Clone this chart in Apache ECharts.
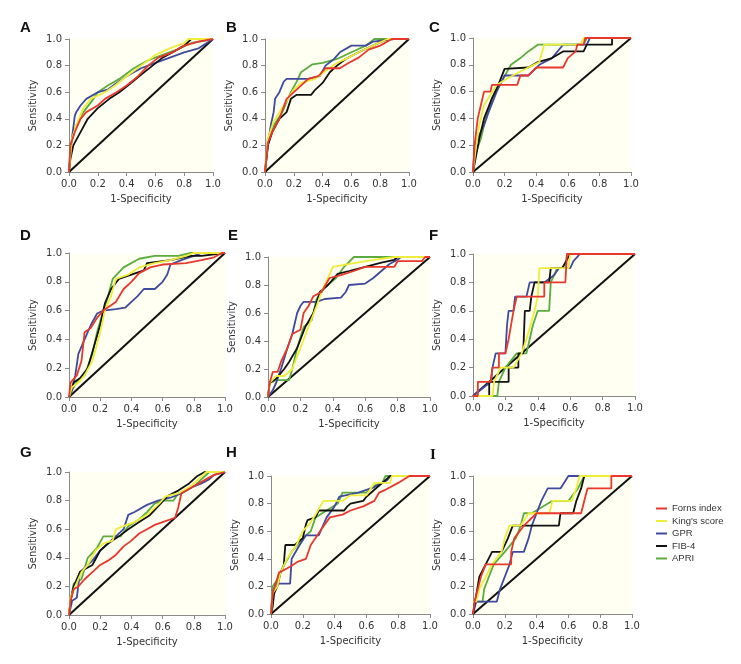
<!DOCTYPE html>
<html><head><meta charset="utf-8">
<script src="https://cdn.jsdelivr.net/npm/echarts@6/dist/echarts.min.js"></script>
<style>html,body{margin:0;padding:0;background:#fff}#c{width:741px;height:664px}</style>
</head><body><div id="c"></div>
<script>
const seriesNames = ["Forns index", "King's score", "GPR", "FIB-4", "APRI"];
const seriesColors = ['#e8382e', '#eded3a', '#3f4a9c', '#111111', '#5bab3f'];
const panelLabels = ['A','B','C','D','E','F','G','H','I'];
const tickValues = [0, 0.2, 0.4, 0.6, 0.8, 1.0];
const diagonal = [[0,0],[1,1]];

// Panel A
const A_forns = [[0,0],[0.01,0.2],[0.04,0.3],[0.08,0.4],[0.12,0.45],[0.2,0.5],[0.25,0.55],[0.33,0.6],[0.4,0.65],[0.48,0.72],[0.55,0.8],[0.62,0.86],[0.72,0.9],[0.8,0.95],[0.9,0.98],[1,1]];
const A_kings = [[0,0],[0.02,0.25],[0.05,0.35],[0.1,0.48],[0.15,0.55],[0.25,0.6],[0.32,0.65],[0.4,0.72],[0.5,0.8],[0.6,0.88],[0.7,0.93],[0.8,0.97],[0.83,1],[1,1]];
const A_gpr = [[0,0],[0.02,0.25],[0.04,0.42],[0.05,0.45],[0.08,0.5],[0.12,0.55],[0.2,0.6],[0.27,0.62],[0.32,0.66],[0.4,0.72],[0.5,0.78],[0.6,0.82],[0.7,0.86],[0.8,0.9],[0.9,0.93],[1,1]];
const A_fib4 = [[0,0],[0.01,0.1],[0.03,0.2],[0.08,0.3],[0.13,0.4],[0.2,0.48],[0.28,0.55],[0.35,0.6],[0.42,0.66],[0.5,0.73],[0.58,0.8],[0.65,0.86],[0.72,0.9],[0.8,0.95],[0.85,1],[1,1]];
const A_apri = [[0,0],[0.01,0.2],[0.05,0.35],[0.1,0.45],[0.17,0.55],[0.2,0.6],[0.27,0.65],[0.35,0.7],[0.45,0.78],[0.55,0.84],[0.65,0.88],[0.75,0.92],[0.85,0.97],[1,1]];
// Panel B
const B_forns = [[0,0],[0.02,0.22],[0.05,0.3],[0.1,0.4],[0.15,0.55],[0.2,0.6],[0.25,0.65],[0.3,0.7],[0.37,0.72],[0.42,0.78],[0.52,0.78],[0.58,0.82],[0.65,0.86],[0.72,0.92],[0.8,0.95],[0.88,1],[1,1]];
const B_kings = [[0,0],[0.02,0.25],[0.06,0.38],[0.13,0.5],[0.2,0.62],[0.25,0.67],[0.35,0.7],[0.42,0.76],[0.5,0.82],[0.58,0.86],[0.65,0.9],[0.75,0.95],[0.85,1],[1,1]];
const B_gpr = [[0,0],[0.02,0.2],[0.04,0.35],[0.06,0.45],[0.07,0.55],[0.1,0.6],[0.13,0.68],[0.15,0.7],[0.3,0.7],[0.38,0.72],[0.42,0.8],[0.48,0.85],[0.52,0.9],[0.6,0.95],[0.7,0.95],[0.75,0.98],[0.9,1],[1,1]];
const B_fib4 = [[0,0],[0.02,0.2],[0.05,0.3],[0.1,0.4],[0.15,0.45],[0.18,0.55],[0.22,0.58],[0.32,0.58],[0.35,0.62],[0.4,0.67],[0.45,0.75],[0.5,0.8],[0.56,0.85],[0.65,0.9],[0.75,0.95],[0.85,1],[1,1]];
const B_apri = [[0,0],[0.02,0.25],[0.06,0.35],[0.12,0.45],[0.18,0.6],[0.22,0.68],[0.25,0.75],[0.33,0.81],[0.4,0.82],[0.5,0.85],[0.6,0.9],[0.7,0.95],[0.76,1],[1,1]];
// Panel C
const C_forns = [[0,0],[0.01,0.2],[0.03,0.4],[0.05,0.5],[0.07,0.6],[0.11,0.6],[0.12,0.65],[0.28,0.65],[0.3,0.72],[0.35,0.72],[0.4,0.78],[0.57,0.78],[0.6,0.85],[0.65,0.9],[0.66,0.95],[0.7,0.95],[0.71,1],[1,1]];
const C_kings = [[0,0],[0.02,0.2],[0.04,0.35],[0.07,0.5],[0.15,0.65],[0.22,0.7],[0.35,0.78],[0.42,0.82],[0.45,0.95],[0.68,0.95],[0.7,1],[1,1]];
const C_gpr = [[0,0],[0.01,0.2],[0.07,0.35],[0.1,0.45],[0.15,0.6],[0.2,0.72],[0.35,0.72],[0.42,0.8],[0.5,0.85],[0.57,0.95],[0.72,0.95],[0.74,1],[1,1]];
const C_fib4 = [[0,0],[0.04,0.25],[0.07,0.4],[0.12,0.55],[0.16,0.65],[0.2,0.77],[0.35,0.78],[0.41,0.82],[0.5,0.85],[0.57,0.9],[0.7,0.9],[0.72,0.95],[0.88,0.95],[0.88,1],[1,1]];
const C_apri = [[0,0],[0.02,0.15],[0.05,0.25],[0.08,0.4],[0.12,0.55],[0.17,0.65],[0.24,0.8],[0.3,0.85],[0.35,0.9],[0.41,0.95],[0.7,0.95],[0.72,1],[1,1]];
// Panel D
const D_forns = [[0,0],[0.01,0.1],[0.05,0.15],[0.08,0.25],[0.1,0.45],[0.14,0.48],[0.18,0.55],[0.22,0.6],[0.3,0.66],[0.35,0.75],[0.4,0.8],[0.45,0.86],[0.52,0.9],[0.6,0.92],[0.75,0.93],[0.85,0.95],[0.93,0.97],[0.98,1],[1,1]];
const D_kings = [[0,0],[0.02,0.07],[0.06,0.1],[0.1,0.15],[0.15,0.25],[0.2,0.45],[0.23,0.6],[0.27,0.7],[0.3,0.82],[0.38,0.85],[0.45,0.9],[0.55,0.93],[0.65,0.95],[0.75,0.98],[0.8,1],[1,1]];
const D_gpr = [[0,0],[0.02,0.05],[0.04,0.15],[0.06,0.3],[0.1,0.4],[0.14,0.5],[0.18,0.58],[0.22,0.6],[0.3,0.61],[0.36,0.62],[0.4,0.66],[0.44,0.7],[0.48,0.75],[0.55,0.75],[0.6,0.8],[0.63,0.85],[0.65,0.92],[0.72,0.95],[0.8,0.98],[0.85,1],[1,1]];
const D_fib4 = [[0,0],[0.03,0.1],[0.07,0.13],[0.12,0.2],[0.16,0.35],[0.2,0.5],[0.23,0.65],[0.27,0.75],[0.32,0.82],[0.4,0.85],[0.48,0.88],[0.5,0.93],[0.65,0.95],[0.78,0.98],[0.85,0.98],[1,1]];
const D_apri = [[0,0],[0.02,0.05],[0.06,0.12],[0.1,0.15],[0.15,0.3],[0.18,0.45],[0.22,0.6],[0.25,0.7],[0.28,0.82],[0.35,0.9],[0.45,0.96],[0.55,0.98],[0.7,0.98],[0.78,1],[1,1]];
// Panel E
const E_forns = [[0,0],[0.01,0.1],[0.03,0.18],[0.06,0.18],[0.08,0.25],[0.12,0.35],[0.15,0.45],[0.2,0.48],[0.22,0.6],[0.25,0.65],[0.28,0.72],[0.33,0.75],[0.38,0.85],[0.45,0.87],[0.53,0.9],[0.6,0.93],[0.78,0.93],[0.8,0.97],[0.95,0.97],[0.97,1],[1,1]];
const E_kings = [[0,0],[0.01,0.1],[0.05,0.15],[0.1,0.15],[0.15,0.2],[0.2,0.35],[0.25,0.5],[0.3,0.65],[0.33,0.75],[0.37,0.85],[0.4,0.93],[0.55,0.96],[0.65,0.98],[0.78,1],[1,1]];
const E_gpr = [[0,0],[0.03,0.05],[0.05,0.1],[0.08,0.2],[0.12,0.35],[0.15,0.45],[0.18,0.6],[0.2,0.65],[0.22,0.68],[0.3,0.68],[0.35,0.7],[0.45,0.71],[0.48,0.75],[0.5,0.8],[0.6,0.81],[0.65,0.85],[0.7,0.9],[0.75,0.95],[0.8,0.98],[0.82,1],[1,1]];
const E_fib4 = [[0,0],[0.01,0.1],[0.05,0.13],[0.1,0.2],[0.13,0.25],[0.18,0.35],[0.23,0.5],[0.28,0.6],[0.32,0.75],[0.37,0.8],[0.43,0.88],[0.5,0.9],[0.6,0.93],[0.7,0.96],[0.78,0.98],[0.8,1],[1,1]];
const E_apri = [[0,0],[0.01,0.1],[0.05,0.12],[0.13,0.12],[0.15,0.2],[0.18,0.35],[0.22,0.5],[0.27,0.55],[0.3,0.7],[0.35,0.78],[0.42,0.85],[0.47,0.93],[0.53,1],[1,1]];
// Panel F
const F_forns = [[0,0],[0.03,0],[0.03,0.1],[0.11,0.1],[0.12,0.2],[0.16,0.2],[0.16,0.3],[0.2,0.3],[0.22,0.4],[0.25,0.6],[0.27,0.7],[0.44,0.7],[0.44,0.8],[0.57,0.8],[0.58,1],[1,1]];
const F_kings = [[0,0],[0.12,0],[0.13,0.1],[0.17,0.2],[0.25,0.2],[0.3,0.3],[0.33,0.4],[0.38,0.6],[0.4,0.7],[0.41,0.9],[0.59,0.9],[0.6,1],[1,1]];
const F_gpr = [[0,0],[0.11,0.1],[0.12,0.2],[0.14,0.3],[0.2,0.3],[0.21,0.5],[0.22,0.6],[0.25,0.6],[0.26,0.7],[0.33,0.7],[0.35,0.8],[0.44,0.8],[0.5,0.85],[0.53,0.9],[0.6,0.9],[0.62,0.95],[0.66,1],[1,1]];
const F_fib4 = [[0,0],[0.1,0],[0.1,0.1],[0.22,0.1],[0.22,0.2],[0.28,0.2],[0.28,0.3],[0.31,0.3],[0.32,0.6],[0.35,0.6],[0.36,0.7],[0.37,0.7],[0.38,0.8],[0.47,0.8],[0.48,0.9],[0.55,0.9],[0.6,1],[1,1]];
const F_apri = [[0,0],[0.15,0],[0.16,0.1],[0.2,0.2],[0.27,0.3],[0.33,0.3],[0.35,0.4],[0.37,0.5],[0.4,0.6],[0.47,0.6],[0.48,0.8],[0.52,0.9],[0.57,0.9],[0.58,1],[1,1]];
// Panel G
const G_forns = [[0,0],[0.01,0.1],[0.03,0.18],[0.06,0.2],[0.1,0.25],[0.15,0.3],[0.2,0.35],[0.25,0.38],[0.3,0.42],[0.35,0.48],[0.4,0.52],[0.45,0.57],[0.5,0.6],[0.55,0.63],[0.6,0.65],[0.68,0.68],[0.7,0.75],[0.72,0.85],[0.8,0.9],[0.88,0.95],[0.93,0.98],[1,1]];
const G_kings = [[0,0],[0.01,0.12],[0.04,0.2],[0.08,0.3],[0.12,0.35],[0.17,0.45],[0.22,0.5],[0.28,0.52],[0.3,0.6],[0.37,0.63],[0.42,0.65],[0.5,0.7],[0.57,0.77],[0.62,0.83],[0.7,0.85],[0.78,0.9],[0.85,0.97],[0.88,1],[1,1]];
const G_gpr = [[0,0],[0.02,0.1],[0.05,0.12],[0.07,0.3],[0.1,0.33],[0.15,0.38],[0.2,0.45],[0.25,0.5],[0.3,0.55],[0.35,0.6],[0.38,0.7],[0.42,0.72],[0.5,0.77],[0.57,0.8],[0.65,0.82],[0.72,0.85],[0.8,0.9],[0.85,0.92],[0.9,0.95],[0.93,0.98],[1,1]];
const G_fib4 = [[0,0],[0.01,0.1],[0.03,0.2],[0.07,0.3],[0.1,0.32],[0.15,0.35],[0.2,0.45],[0.25,0.5],[0.32,0.55],[0.38,0.6],[0.45,0.65],[0.52,0.7],[0.58,0.77],[0.63,0.83],[0.7,0.87],[0.77,0.92],[0.82,0.97],[0.87,1],[1,1]];
const G_apri = [[0,0],[0.01,0.1],[0.03,0.22],[0.08,0.25],[0.12,0.4],[0.18,0.47],[0.22,0.55],[0.33,0.55],[0.38,0.62],[0.45,0.67],[0.5,0.72],[0.55,0.78],[0.6,0.8],[0.67,0.8],[0.7,0.85],[0.8,0.9],[0.85,0.95],[0.9,1],[1,1]];
// Panel H
const H_forns = [[0,0],[0.01,0.15],[0.03,0.22],[0.05,0.3],[0.1,0.33],[0.13,0.35],[0.17,0.38],[0.22,0.4],[0.25,0.5],[0.28,0.55],[0.32,0.62],[0.37,0.7],[0.45,0.72],[0.5,0.75],[0.58,0.78],[0.65,0.82],[0.68,0.88],[0.72,0.9],[0.8,0.95],[0.87,1],[1,1]];
const H_kings = [[0,0],[0.01,0.15],[0.04,0.2],[0.06,0.3],[0.1,0.4],[0.16,0.5],[0.2,0.6],[0.24,0.65],[0.28,0.72],[0.33,0.82],[0.45,0.82],[0.5,0.86],[0.6,0.86],[0.65,0.95],[0.75,0.95],[0.76,1],[1,1]];
const H_gpr = [[0,0],[0.01,0.15],[0.03,0.22],[0.12,0.22],[0.13,0.4],[0.18,0.5],[0.22,0.57],[0.3,0.57],[0.35,0.7],[0.4,0.78],[0.43,0.85],[0.55,0.88],[0.6,0.9],[0.65,0.92],[0.7,0.95],[0.73,0.97],[0.75,1],[1,1]];
const H_fib4 = [[0,0],[0.01,0.05],[0.02,0.15],[0.04,0.2],[0.06,0.3],[0.08,0.35],[0.09,0.5],[0.15,0.5],[0.2,0.55],[0.22,0.65],[0.23,0.68],[0.28,0.7],[0.3,0.75],[0.46,0.75],[0.48,0.78],[0.5,0.8],[0.58,0.82],[0.6,0.85],[0.65,0.9],[0.7,0.95],[0.75,1],[1,1]];
const H_apri = [[0,0],[0.01,0.2],[0.04,0.25],[0.08,0.35],[0.13,0.45],[0.2,0.55],[0.25,0.6],[0.28,0.7],[0.35,0.75],[0.42,0.8],[0.45,0.88],[0.6,0.88],[0.65,0.93],[0.7,0.95],[0.72,1],[1,1]];
// Panel I
const I_forns = [[0,0],[0.01,0.09],[0.03,0.18],[0.05,0.27],[0.08,0.36],[0.24,0.36],[0.24,0.45],[0.26,0.55],[0.32,0.64],[0.4,0.73],[0.68,0.73],[0.7,0.82],[0.72,0.91],[0.87,0.91],[0.87,1],[1,1]];
const I_kings = [[0,0.09],[0.02,0.09],[0.04,0.18],[0.08,0.27],[0.12,0.36],[0.18,0.45],[0.2,0.55],[0.23,0.64],[0.3,0.64],[0.35,0.73],[0.48,0.73],[0.5,0.82],[0.62,0.82],[0.65,0.91],[0.67,1],[1,1]];
const I_gpr = [[0,0],[0.02,0.09],[0.15,0.09],[0.17,0.18],[0.2,0.27],[0.23,0.36],[0.25,0.45],[0.32,0.45],[0.35,0.55],[0.37,0.64],[0.4,0.73],[0.43,0.82],[0.47,0.91],[0.55,0.91],[0.6,1],[1,1]];
const I_fib4 = [[0,0],[0.04,0.27],[0.08,0.36],[0.12,0.45],[0.18,0.45],[0.22,0.55],[0.25,0.64],[0.38,0.64],[0.54,0.64],[0.55,0.73],[0.63,0.73],[0.65,0.82],[0.68,0.91],[0.7,1],[1,1]];
const I_apri = [[0,0.09],[0.06,0.09],[0.07,0.18],[0.1,0.27],[0.13,0.36],[0.2,0.45],[0.27,0.55],[0.3,0.64],[0.32,0.73],[0.37,0.73],[0.5,0.82],[0.6,0.82],[0.66,0.91],[0.7,1],[1,1]];

const panelData = {
  A: [A_forns, A_kings, A_gpr, A_fib4, A_apri],
  B: [B_forns, B_kings, B_gpr, B_fib4, B_apri],
  C: [C_forns, C_kings, C_gpr, C_fib4, C_apri],
  D: [D_forns, D_kings, D_gpr, D_fib4, D_apri],
  E: [E_forns, E_kings, E_gpr, E_fib4, E_apri],
  F: [F_forns, F_kings, F_gpr, F_fib4, F_apri],
  G: [G_forns, G_kings, G_gpr, G_fib4, G_apri],
  H: [H_forns, H_kings, H_gpr, H_fib4, H_apri],
  I: [I_forns, I_kings, I_gpr, I_fib4, I_apri]
};

// layout
const gridRects = [
  [69,39,144,133],[265,39,144,133],[473,38,158,134],
  [69,253,156,144],[268,257,162,140],[473,254,162,142],
  [69,472,156,143],[271,476,159,138],[473,476,159,138]
];
const letterPos = [[20,20],[226,20],[429,20],[20,228],[228,228],[429,228],[20,445],[226,445],[430,448]];

const FONT = 'DejaVu Sans';
const grids = [], xAxes = [], yAxes = [], series = [], graphics = [];
const drawOrder = [4, 2, 3, 1, 0];
panelLabels.forEach((p, i) => {
  const r = gridRects[i];
  grids.push({left: r[0], top: r[1], width: r[2], height: r[3], show: true, backgroundColor: '#fffff2', borderWidth: 0});
  const axisCommon = {
    min: 0, max: 1, interval: 0.2, gridIndex: i, nameLocation: 'middle',
    axisLine: {show: true, lineStyle: {color: '#8a8a8a', width: 1}},
    axisTick: {show: true, length: 4, lineStyle: {color: '#8a8a8a'}},
    splitLine: {show: false},
    axisLabel: {fontFamily: FONT, fontSize: 10, color: '#333', formatter: v => v.toFixed(1)},
    nameTextStyle: {fontFamily: FONT, fontSize: 10, color: '#333'}
  };
  xAxes.push(Object.assign({}, axisCommon, {type: 'value', name: '1-Specificity', nameGap: 22,
    axisLabel: Object.assign({}, axisCommon.axisLabel, {margin: 7})}));
  yAxes.push(Object.assign({}, axisCommon, {type: 'value', name: 'Sensitivity', nameGap: 31,
    axisLabel: Object.assign({}, axisCommon.axisLabel, {margin: 7})}));
  series.push({type: 'line', xAxisIndex: i, yAxisIndex: i, data: diagonal, showSymbol: false, silent: true,
    lineStyle: {color: '#111', width: 2}, z: 2});
  drawOrder.forEach((k, j) => {
    series.push({type: 'line', name: seriesNames[k], xAxisIndex: i, yAxisIndex: i, data: panelData[p][k],
      showSymbol: false, symbol: 'none', color: seriesColors[k], lineStyle: {color: seriesColors[k], width: 1.8}, z: 3 + j});
  });
  graphics.push({type: 'text', left: letterPos[i][0], top: letterPos[i][1],
    style: {text: p, fontFamily: p === 'I' ? 'Liberation Serif' : 'Liberation Sans', fontWeight: 'bold', fontSize: 15, fill: '#111'}});
});

const chart = echarts.init(document.getElementById('c'), null, {renderer: 'canvas'});
chart.setOption({
  animation: false,
  backgroundColor: '#fff',
  grid: grids, xAxis: xAxes, yAxis: yAxes, series: series, graphic: graphics,
  legend: {
    data: seriesNames, orient: 'vertical', left: 656, top: 502.5, padding: 0,
    icon: 'rect', itemWidth: 11, itemHeight: 2, itemGap: 0.5,
    textStyle: {fontFamily: 'Liberation Sans', fontSize: 9.5, color: '#333', lineHeight: 12, padding: [0,0,0,0]}
  }
});
</script></body></html>
